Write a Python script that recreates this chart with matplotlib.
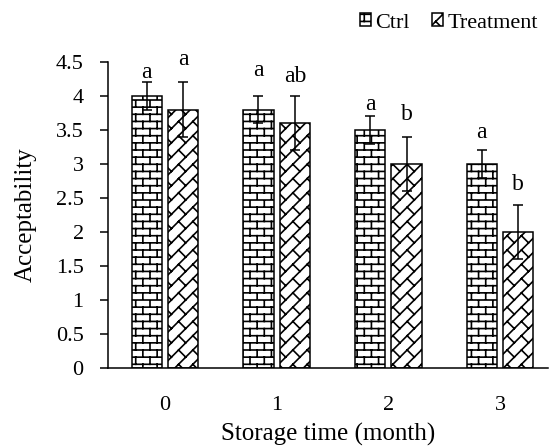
import numpy as np
import matplotlib
matplotlib.use('Agg')
import matplotlib.pyplot as plt
from matplotlib import hatch as mhatch
from matplotlib.path import Path

# Data
months = ['0', '1', '2', '3']
ctrl = [4.0, 3.8, 3.5, 3.0]
ctrl_err = [0.2, 0.2, 0.2, 0.2]
treat = [3.8, 3.6, 3.0, 2.0]
treat_err = [0.4, 0.4, 0.4, 0.4]
ctrl_letters = ['a', 'a', 'a', 'a']
treat_letters = ['a', 'ab', 'b', 'b']
ctrl_letter_y = [4.26, 4.29, 3.79, 3.38]
treat_letter_y = [4.46, 4.21, 3.65, 2.62]


# Excel-like brick hatches (replace the stock hatch patterns)
class SegmentHatch(mhatch.HatchPatternBase):
    key = ''

    def __init__(self, hatch, density):
        self.segs = self.segments() if self.key in hatch else []
        self.num_vertices = 2 * len(self.segs)

    def set_vertices_and_codes(self, vertices, codes):
        for i, (a, b) in enumerate(self.segs):
            vertices[2 * i] = a
            vertices[2 * i + 1] = b
        codes[0::2] = Path.MOVETO
        codes[1::2] = Path.LINETO


class BrickHatch(SegmentHatch):
    key = '+'

    def segments(self):
        rows, cols = 14, 7
        segs = [((-0.05, i / rows), (1.05, i / rows)) for i in range(rows + 1)]
        for i in range(rows):
            for j in range(-1, cols + 1):
                xx = (j + 0.5 * (i % 2)) / cols
                segs.append(((xx, i / rows), (xx, (i + 1) / rows)))
        return segs


class DiagBrickHatch(SegmentHatch):
    key = 'x'

    def segments(self):
        n = 7
        t = 1.0 / n
        segs = []
        for k in range(-n - 1, n + 2):
            c = k * t
            segs.append(((-0.1, -0.1 + c), (1.1, 1.1 + c)))
            for m in range(-2, n + 2):
                x0 = (m + 0.5) * t
                y0 = x0 + c
                segs.append(((x0, y0), (x0 + t / 2, y0 - t / 2)))
        return segs


mhatch._hatch_types[:] = [BrickHatch, DiagBrickHatch]

plt.rcParams['font.family'] = ['Liberation Serif', 'DejaVu Serif']
plt.rcParams['hatch.linewidth'] = 1.2

fig = plt.figure(figsize=(5.5, 4.46), dpi=100)
ax = fig.add_axes([108 / 550, 1 - 368 / 446, 440 / 550, 306 / 446])

x = np.arange(len(months))
w = 0.27
off = 0.163
err_style = dict(ecolor='black', elinewidth=1.1, capsize=3.3, capthick=1.1)

ax.bar(x - off, ctrl, w, yerr=ctrl_err, color='white', edgecolor='black',
       linewidth=1.1, hatch='+', label='Ctrl', error_kw=err_style)
ax.bar(x + off, treat, w, yerr=treat_err, color='white', edgecolor='black',
       linewidth=1.1, hatch='x', label='Treatment', error_kw=err_style)

for i in range(len(months)):
    ax.text(x[i] - off, ctrl_letter_y[i], ctrl_letters[i], ha='center',
            va='baseline', fontsize=17)
    ax.text(x[i] + off, treat_letter_y[i], treat_letters[i], ha='center',
            va='baseline', fontsize=17)

ax.set_xlim(-0.51, 3.43)
ax.set_ylim(0, 4.5)
yt = np.arange(0, 4.51, 0.5)
ax.set_yticks(yt)
ax.set_yticklabels([f'{v:g}' for v in yt])
ax.set_xticks(x)
ax.set_xticklabels(months)

ax.tick_params(axis='y', direction='out', length=5.5, width=1.1, pad=12,
               labelsize=16)
ax.tick_params(axis='x', length=0, pad=20, labelsize=16)

for s in ['top', 'right']:
    ax.spines[s].set_visible(False)
for s in ['left', 'bottom']:
    ax.spines[s].set_linewidth(1.1)

ax.set_ylabel('Acceptability', fontsize=18, labelpad=14)
ax.set_xlabel('Storage time (month)', fontsize=18, labelpad=6)

fig.legend(loc='upper right', bbox_to_anchor=(0.995, 0.99), ncol=2,
           frameon=False, fontsize=16, handlelength=0.5, handleheight=0.5,
           handletextpad=0.2, columnspacing=1.0, borderaxespad=0.2,
           borderpad=0.2)

fig.savefig('out.png', dpi=100)
